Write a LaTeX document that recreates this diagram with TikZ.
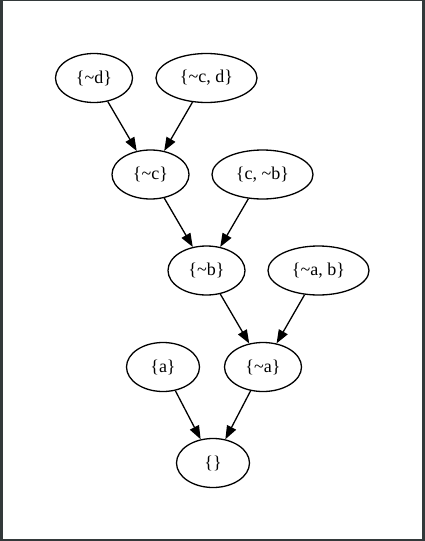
\documentclass[tikz,border=0pt]{standalone}
\usepackage{fontspec}
\setmainfont{Liberation Serif}
\usetikzlibrary{arrows.meta,shapes.geometric}
\definecolor{framecol}{HTML}{33393A}
\newcommand\tld{\textasciitilde}
\begin{document}
\begin{tikzpicture}[x=1pt,y=-1pt,
  lit/.style={draw, ellipse, line width=1.3pt, inner sep=0pt, minimum height=49pt,
              font=\fontsize{18}{21}\selectfont},
  onelit/.style={lit, minimum width=77pt},
  twolit/.style={lit, minimum width=101pt},
  plainlit/.style={lit, minimum width=73pt},
  edgeline/.style={line width=1.3pt, -{Triangle[length=13.5pt,width=10pt]}}]
\useasboundingbox (0,0) rectangle (425,541);
\fill[framecol] (0,0) rectangle (425,541);
\fill[white] (3,1) rectangle (422,539);
\node[onelit] (d1) at (94,78) {\{\tld d\}};
\node[twolit] (cd) at (206.5,78) {\{\tld c, d\}};
\node[onelit] (c1) at (150.5,174.5) {\{\tld c\}};
\node[twolit] (cb) at (262.5,174.5) {\{c, \tld b\}};
\node[onelit] (b1) at (206.5,270.5) {\{\tld b\}};
\node[twolit] (ab) at (318.5,270.5) {\{\tld a, b\}};
\node[plainlit] (a0) at (163,367) {\{a\}};
\node[onelit] (a1) at (263,367) {\{\tld a\}};
\node[plainlit] (e) at (213,463) {\{\}};
\draw[edgeline] (d1) -- (c1);
\draw[edgeline] (cd) -- (c1);
\draw[edgeline] (c1) -- (b1);
\draw[edgeline] (cb) -- (b1);
\draw[edgeline] (b1) -- (a1);
\draw[edgeline] (ab) -- (a1);
\draw[edgeline] (a0) -- (e);
\draw[edgeline] (a1) -- (e);
\end{tikzpicture}
\end{document}
